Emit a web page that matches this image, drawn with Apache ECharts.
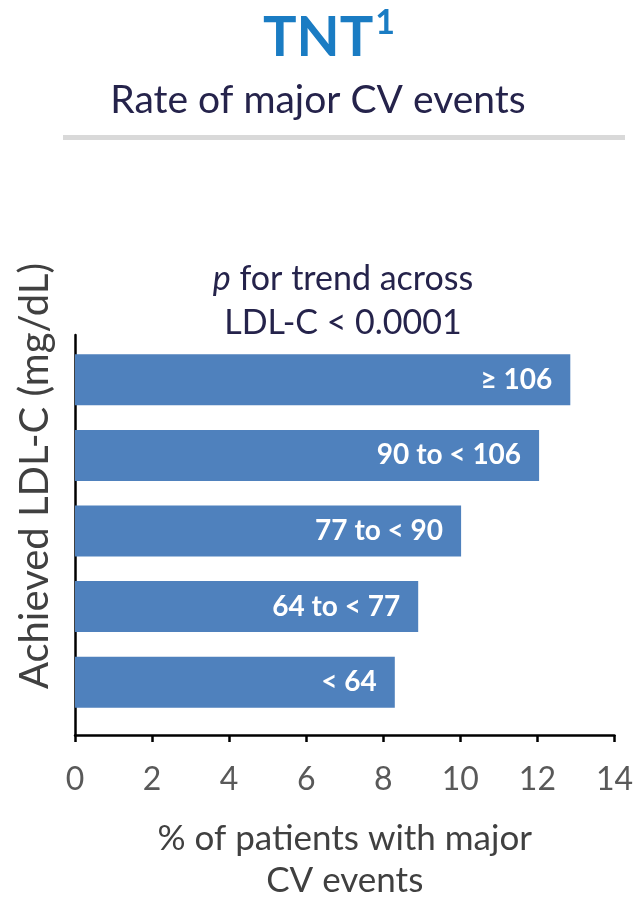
<!DOCTYPE html>
<html>
<head>
<meta charset="utf-8">
<script src="https://cdn.jsdelivr.net/npm/echarts@6/dist/echarts.min.js"></script>
<style>
  html, body { margin: 0; padding: 0; background: #fff; }
  #chart { width: 636px; height: 903px; }
</style>
</head>
<body>
<div id="chart"></div>
<script>
// achieved LDL-C groups, bottom to top
const categories = ['< 64', '64 to < 77', '77 to < 90', '90 to < 106', '\u2265 106']
// % of patients with major CV events
const eventRates = [8.2, 8.8, 9.9, 11.9, 12.7]
const xMin = 0
const xMax = 14
const xStep = 2

const font = 'Lato, "Open Sans", sans-serif'
const navy = '#25234b'
const axisGray = '#404040'
const barBlue = '#4f81bd'

const chart = echarts.init(document.getElementById('chart'), null, { renderer: 'canvas' })

chart.setOption({
  backgroundColor: '#fff',
  animation: false,
  title: [
    {
      text: '{main|TNT}{sup|1}',
      left: 324,
      textAlign: 'center',
      top: 1,
      textStyle: {
        rich: {
          main: { fontSize: 56, fontWeight: 'bold', color: '#1a7cc3', fontFamily: font, lineHeight: 64 },
          sup: { fontSize: 34, fontWeight: 'bold', color: '#1a7cc3', fontFamily: font, verticalAlign: 'top', lineHeight: 64, padding: [0, 0, 0, 2] },
        },
      },
    },
    {
      text: 'Rate of major CV events',
      left: 'center',
      top: 76,
      textStyle: { fontSize: 39, fontWeight: 'normal', color: navy, fontFamily: font },
    },
    {
      text: '{i|p} for trend across\nLDL-C < 0.0001',
      left: 338,
      textAlign: 'center',
      top: 252,
      textStyle: {
        fontSize: 34,
        fontWeight: 'normal',
        color: navy,
        fontFamily: font,
        lineHeight: 44,
        rich: {
          i: { fontSize: 34, fontStyle: 'italic', color: navy, fontFamily: font, lineHeight: 44 },
        },
      },
    },
  ],
  graphic: [
    {
      type: 'rect',
      shape: { x: 63, y: 135, width: 562, height: 5 },
      style: { fill: '#d9d9d9' },
      silent: true,
    },
    {
      type: 'text',
      x: 35,
      y: 476,
      rotation: Math.PI / 2,
      style: {
        text: 'Achieved LDL-C (mg/dL)',
        fontSize: 40,
        fontFamily: font,
        fill: axisGray,
        align: 'center',
        verticalAlign: 'middle',
      },
      silent: true,
    },
  ],
  grid: [
    // frame with the axes
    { left: 75, right: 15, top: 335, bottom: 157 },
    // bars
    { left: 75, right: 15, top: 342, height: 378 },
  ],
  xAxis: [
    {
      gridIndex: 0,
      type: 'value',
      min: xMin,
      max: xMax,
      interval: xStep,
      axisLine: { show: true, lineStyle: { color: '#000', width: 2.5 } },
      axisTick: { show: true, length: 7, lineStyle: { color: '#000', width: 2.5 } },
      splitLine: { show: false },
      axisLabel: { fontSize: 32, color: '#595959', fontFamily: font, margin: 29 },
      name: '% of patients with major\nCV events',
      nameLocation: 'middle',
      nameGap: 83,
      nameTextStyle: { fontSize: 35, color: axisGray, fontFamily: font, lineHeight: 42 },
    },
    {
      gridIndex: 1,
      type: 'value',
      min: xMin,
      max: xMax,
      show: false,
    },
  ],
  yAxis: [
    {
      gridIndex: 0,
      type: 'value',
      min: 0,
      max: 1,
      axisLine: { show: true, lineStyle: { color: '#000', width: 2.5 } },
      axisTick: { show: false },
      axisLabel: { show: false },
      splitLine: { show: false },
    },
    {
      gridIndex: 1,
      type: 'category',
      data: categories,
      show: false,
    },
  ],
  series: [
    {
      type: 'bar',
      xAxisIndex: 1,
      yAxisIndex: 1,
      data: eventRates,
      barWidth: 51,
      itemStyle: { color: barBlue },
      label: {
        show: true,
        position: 'insideRight',
        distance: 18,
        formatter: '{b}',
        color: '#fff',
        fontWeight: 'bold',
        fontSize: 28,
        fontFamily: font,
      },
    },
  ],
})
</script>
</body>
</html>
